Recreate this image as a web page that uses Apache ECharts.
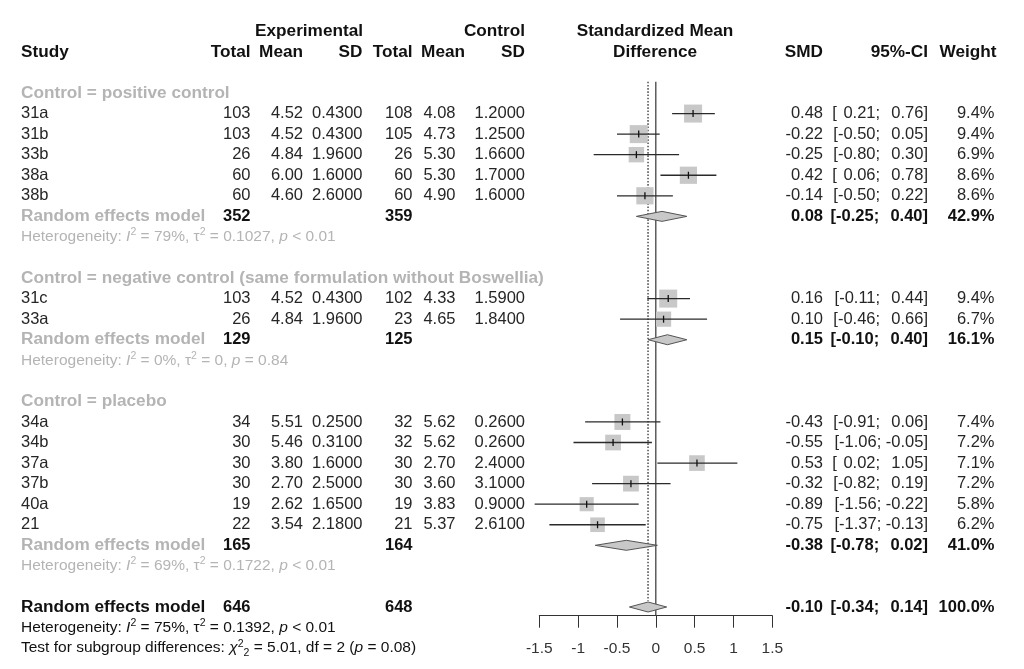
<!DOCTYPE html>
<html>
<head>
<meta charset="utf-8">
<script src="https://cdn.jsdelivr.net/npm/echarts@6/dist/echarts.min.js"></script>
<style>
html,body{margin:0;padding:0;background:#fff;}
#chart{width:1024px;height:669px;}
</style>
</head>
<body>
<div id="chart"></div>
<script>
// ---------------- DATA ----------------
const studies   = ['31a','31b','33b','38a','38b','31c','33a','34a','34b','37a','37b','40a','21'];
const studyGroup= [0,0,0,0,0,1,1,2,2,2,2,2,2];
const expN      = [103,103,26,60,60,103,26,34,30,30,30,19,22];
const expMean   = [4.52,4.52,4.84,6.00,4.60,4.52,4.84,5.51,5.46,3.80,2.70,2.62,3.54];
const expSD     = [0.43,0.43,1.96,1.60,2.60,0.43,1.96,0.25,0.31,1.60,2.50,1.65,2.18];
const ctlN      = [108,105,26,60,60,102,23,32,32,30,30,19,21];
const ctlMean   = [4.08,4.73,5.30,5.30,4.90,4.33,4.65,5.62,5.62,2.70,3.60,3.83,5.37];
const ctlSD     = [1.20,1.25,1.66,1.70,1.60,1.59,1.84,0.26,0.26,2.40,3.10,0.90,2.61];
const smd       = [0.48,-0.22,-0.25,0.42,-0.14,0.16,0.10,-0.43,-0.55,0.53,-0.32,-0.89,-0.75];
const ciLow     = [0.21,-0.50,-0.80,0.06,-0.50,-0.11,-0.46,-0.91,-1.06,0.02,-0.82,-1.56,-1.37];
const ciHigh    = [0.76,0.05,0.30,0.78,0.22,0.44,0.66,0.06,-0.05,1.05,0.19,-0.22,-0.13];
const weight    = [9.4,9.4,6.9,8.6,8.6,9.4,6.7,7.4,7.2,7.1,7.2,5.8,6.2];

const groupLabels = ['Control = positive control',
  'Control = negative control (same formulation without Boswellia)',
  'Control = placebo'];
const groupExpN   = [352,129,165];
const groupCtlN   = [359,125,164];
const groupSmd    = [0.08,0.15,-0.38];
const groupLow    = [-0.25,-0.10,-0.78];
const groupHigh   = [0.40,0.40,0.02];
const groupWeight = [42.9,16.1,41.0];
const groupI2     = ['79%','0%','69%'];
const groupTau2   = ['0.1027','0','0.1722'];
const groupP      = ['< 0.01','= 0.84','< 0.01'];

const overallExpN = 646, overallCtlN = 648;
const overallSmd = -0.10, overallLow = -0.34, overallHigh = 0.14, overallWeight = 100.0;
const overallI2 = '75%', overallTau2 = '0.1392', overallP = '< 0.01';
const testChi2 = '5.01', testDf = '2', testP = '0.08';

const xTicks = [-1.5,-1,-0.5,0,0.5,1,1.5];

// ---------------- LAYOUT / STYLE ----------------
const FONT = '"Liberation Sans", Arial, sans-serif';
const C_BLACK = '#111111', C_TEXT = '#262626', C_GRAY = '#b4b4b4';
const FS = 16.5, FS_BOLD = 17.2, FS_HET = 15.5;
const col = {study:21, eN:250.5, eM:303, eSD:362.5, cN:412.5, cM:455.5, cSD:525, smd:823, ci:928, w:994.5};
const ROW_H = 20.56, ROW0_Y = 93, AXIS_Y = 615.7;
const X_LEFT = 539.3, X_WIDTH = 233;

// ---------------- BUILD ROWS ----------------
const f2 = v => v.toFixed(2);
const pad = v => (v < 0 ? '' : '\u2009\u2009') + v.toFixed(2);
const ciStr = (lo, hi) => '[' + pad(lo) + '; ' + pad(hi) + ']';

const texts = [];
function T(x,row,text,align,opt){ texts.push(Object.assign({x,row,text,align,bold:false,color:C_TEXT,size:FS},opt||{})); }
const B = (color) => ({bold:true, color:color||C_BLACK, size:FS_BOLD});
const BN = () => ({bold:true, color:C_BLACK, size:FS});

// header
T(363,-3,'Experimental','right',B());
T(525,-3,'Control','right',B());
T(655,-3,'Standardized Mean','center',B());
T(col.study,-2,'Study','left',B());
T(col.eN,-2,'Total','right',B());
T(col.eM,-2,'Mean','right',B());
T(col.eSD,-2,'SD','right',B());
T(col.cN,-2,'Total','right',B());
T(465,-2,'Mean','right',B());
T(col.cSD,-2,'SD','right',B());
T(655,-2,'Difference','center',B());
T(col.smd,-2,'SMD','right',B());
T(col.ci,-2,'95%-CI','right',B());
T(996.5,-2,'Weight','right',B());

const studyRows = [], groupRows = [];
let r = 0;
groupLabels.forEach((g, gi) => {
  T(col.study, r, g, 'left', B(C_GRAY));
  r++;
  studies.forEach((s, i) => {
    if (studyGroup[i] !== gi) return;
    studyRows[i] = r;
    T(col.study, r, s, 'left');
    T(col.eN, r, String(expN[i]), 'right');
    T(col.eM, r, f2(expMean[i]), 'right');
    T(col.eSD, r, expSD[i].toFixed(4), 'right');
    T(col.cN, r, String(ctlN[i]), 'right');
    T(col.cM, r, f2(ctlMean[i]), 'right');
    T(col.cSD, r, ctlSD[i].toFixed(4), 'right');
    T(col.smd, r, f2(smd[i]), 'right');
    T(col.ci, r, ciStr(ciLow[i], ciHigh[i]), 'right');
    T(col.w, r, weight[i].toFixed(1) + '%', 'right');
    r++;
  });
  groupRows[gi] = r;
  T(col.study, r, 'Random effects model', 'left', B(C_GRAY));
  T(col.eN, r, String(groupExpN[gi]), 'right', BN());
  T(col.cN, r, String(groupCtlN[gi]), 'right', BN());
  T(col.smd, r, f2(groupSmd[gi]), 'right', BN());
  T(col.ci, r, ciStr(groupLow[gi], groupHigh[gi]), 'right', BN());
  T(col.w, r, groupWeight[gi].toFixed(1) + '%', 'right', BN());
  r++;
  T(col.study, r, 'Heterogeneity: {it|I}{sup|2} = ' + groupI2[gi] + ', \u03c4{sup|2} = ' + groupTau2[gi] + ', {it|p} ' + groupP[gi],
    'left', {color:C_GRAY, size:FS_HET, rich:true});
  r += 2;
});
const overallRow = r;
T(col.study, r, 'Random effects model', 'left', B());
T(col.eN, r, String(overallExpN), 'right', BN());
T(col.cN, r, String(overallCtlN), 'right', BN());
T(col.smd, r, f2(overallSmd), 'right', BN());
T(col.ci, r, ciStr(overallLow, overallHigh), 'right', BN());
T(col.w, r, overallWeight.toFixed(1) + '%', 'right', BN());
r++;
T(col.study, r, 'Heterogeneity: {it|I}{sup|2} = ' + overallI2 + ', \u03c4{sup|2} = ' + overallTau2 + ', {it|p} ' + overallP,
  'left', {color:C_BLACK, size:FS_HET, rich:true});
r++;
T(col.study, r, 'Test for subgroup differences: {it|\u03c7}{sup|2}{sub|2} = ' + testChi2 + ', df = ' + testDf + ' ({it|p} = ' + testP + ')',
  'left', {color:C_BLACK, size:FS_HET, rich:true});
const lastRow = r;

const rowMin = -3;
const gridTop = ROW0_Y + rowMin * ROW_H;
const forestRowMax = rowMin + (AXIS_Y - gridTop) / ROW_H;
const tableRowMax = lastRow + 0.8;

// ---------------- CHART ----------------
const chart = echarts.init(document.getElementById('chart'), null, {renderer:'canvas'});

function textItem(params, api) {
  const t = texts[params.dataIndex];
  const p = api.coord([api.value(0), api.value(1)]);
  const style = {
    text: t.text, x: 0, y: 0, fill: t.color, align: t.align, verticalAlign: 'middle',
    fontFamily: FONT, fontSize: t.size, fontWeight: t.bold ? 'bold' : 'normal'
  };
  if (t.rich) {
    style.lineHeight = 20;
    style.rich = {
      it: {fontStyle:'italic', fontFamily: FONT, fontSize: t.size, fill: t.color, lineHeight: 20},
      sup: {fontFamily: FONT, fontSize: 10.5, fill: t.color, lineHeight: 11, verticalAlign: 'top'},
      sub: {fontFamily: FONT, fontSize: 10.5, fill: t.color, lineHeight: 11, verticalAlign: 'bottom'}
    };
  }
  return {type:'text', x:p[0], y:p[1], style};
}

const studyData = studies.map((s,i) => [smd[i], studyRows[i], ciLow[i], ciHigh[i], weight[i]]);
const diamondData = groupSmd.map((v,gi) => [v, groupRows[gi], groupLow[gi], groupHigh[gi]])
  .concat([[overallSmd, overallRow, overallLow, overallHigh]]);

const SQ_K = 5.87; // px per sqrt(weight %)
function studyItem(params, api) {
  const est = api.value(0), row = api.value(1), lo = api.value(2), hi = api.value(3), w = api.value(4);
  const c = api.coord([est, row]);
  const pl = api.coord([lo, row]), ph = api.coord([hi, row]);
  const s = SQ_K * Math.sqrt(w);
  return {type:'group', children:[
    {type:'rect', shape:{x:c[0]-s/2, y:c[1]-s/2, width:s, height:s}, style:{fill:'#c8c8c8'}},
    {type:'line', shape:{x1:pl[0], y1:c[1], x2:ph[0], y2:c[1]}, style:{stroke:'#2a2a2a', lineWidth:1.3}},
    {type:'line', shape:{x1:c[0], y1:c[1]-3.5, x2:c[0], y2:c[1]+3.5}, style:{stroke:'#111', lineWidth:1.3}}
  ]};
}
function diamondItem(params, api) {
  const est = api.value(0), row = api.value(1), lo = api.value(2), hi = api.value(3);
  const c = api.coord([est, row]);
  const pl = api.coord([lo, row]), ph = api.coord([hi, row]);
  const h = 5;
  return {type:'polygon', shape:{points:[[pl[0],c[1]],[c[0],c[1]-h],[ph[0],c[1]],[c[0],c[1]+h]]},
    style:{fill:'#c8c8c8', stroke:'#555', lineWidth:1}};
}
const refLines = [[0, -0.55, forestRowMax, 0], [overallSmd, -0.55, overallRow - 0.3, 1]];
function refItem(params, api) {
  const x = api.value(0);
  const p1 = api.coord([x, api.value(1)]), p2 = api.coord([x, api.value(2)]);
  const dotted = api.value(3) === 1;
  return {type:'line', shape:{x1:p1[0], y1:p1[1], x2:p2[0], y2:p2[1]},
    style:{stroke:'#444', lineWidth: dotted ? 1.4 : 1.3, lineDash: dotted ? [1.6,1.6] : null}};
}

chart.setOption({
  animation: false,
  backgroundColor: '#ffffff',
  grid: [
    {left:0, width:1024, top:gridTop, height:(tableRowMax - rowMin) * ROW_H, containLabel:false},
    {left:X_LEFT, width:X_WIDTH, top:gridTop, height:AXIS_Y - gridTop, containLabel:false}
  ],
  xAxis: [
    {gridIndex:0, type:'value', min:0, max:1024, show:false},
    {gridIndex:1, type:'value', position:'bottom', min:xTicks[0], max:xTicks[xTicks.length-1], interval:0.5,
     axisLine:{show:true, onZero:false, lineStyle:{color:'#333', width:1}},
     axisTick:{show:true, length:12, lineStyle:{color:'#333', width:1}},
     axisLabel:{show:true, margin:25, color:'#333', fontFamily:FONT, fontSize:15.5,
       formatter: v => String(v)},
     splitLine:{show:false}}
  ],
  yAxis: [
    {gridIndex:0, type:'value', inverse:true, min:rowMin, max:tableRowMax, show:false},
    {gridIndex:1, type:'value', inverse:true, min:rowMin, max:forestRowMax, show:false}
  ],
  series: [
    {type:'custom', name:'refLines', xAxisIndex:1, yAxisIndex:1, data:refLines, renderItem:refItem, silent:true, z:1},
    {type:'custom', name:'studies', xAxisIndex:1, yAxisIndex:1, data:studyData, renderItem:studyItem, silent:true, z:3, clip:false},
    {type:'custom', name:'diamonds', xAxisIndex:1, yAxisIndex:1, data:diamondData, renderItem:diamondItem, silent:true, z:3, clip:false},
    {type:'custom', name:'table', xAxisIndex:0, yAxisIndex:0, data:texts.map(t => [t.x, t.row]), renderItem:textItem, silent:true, z:4, clip:false}
  ]
});
</script>
</body>
</html>
